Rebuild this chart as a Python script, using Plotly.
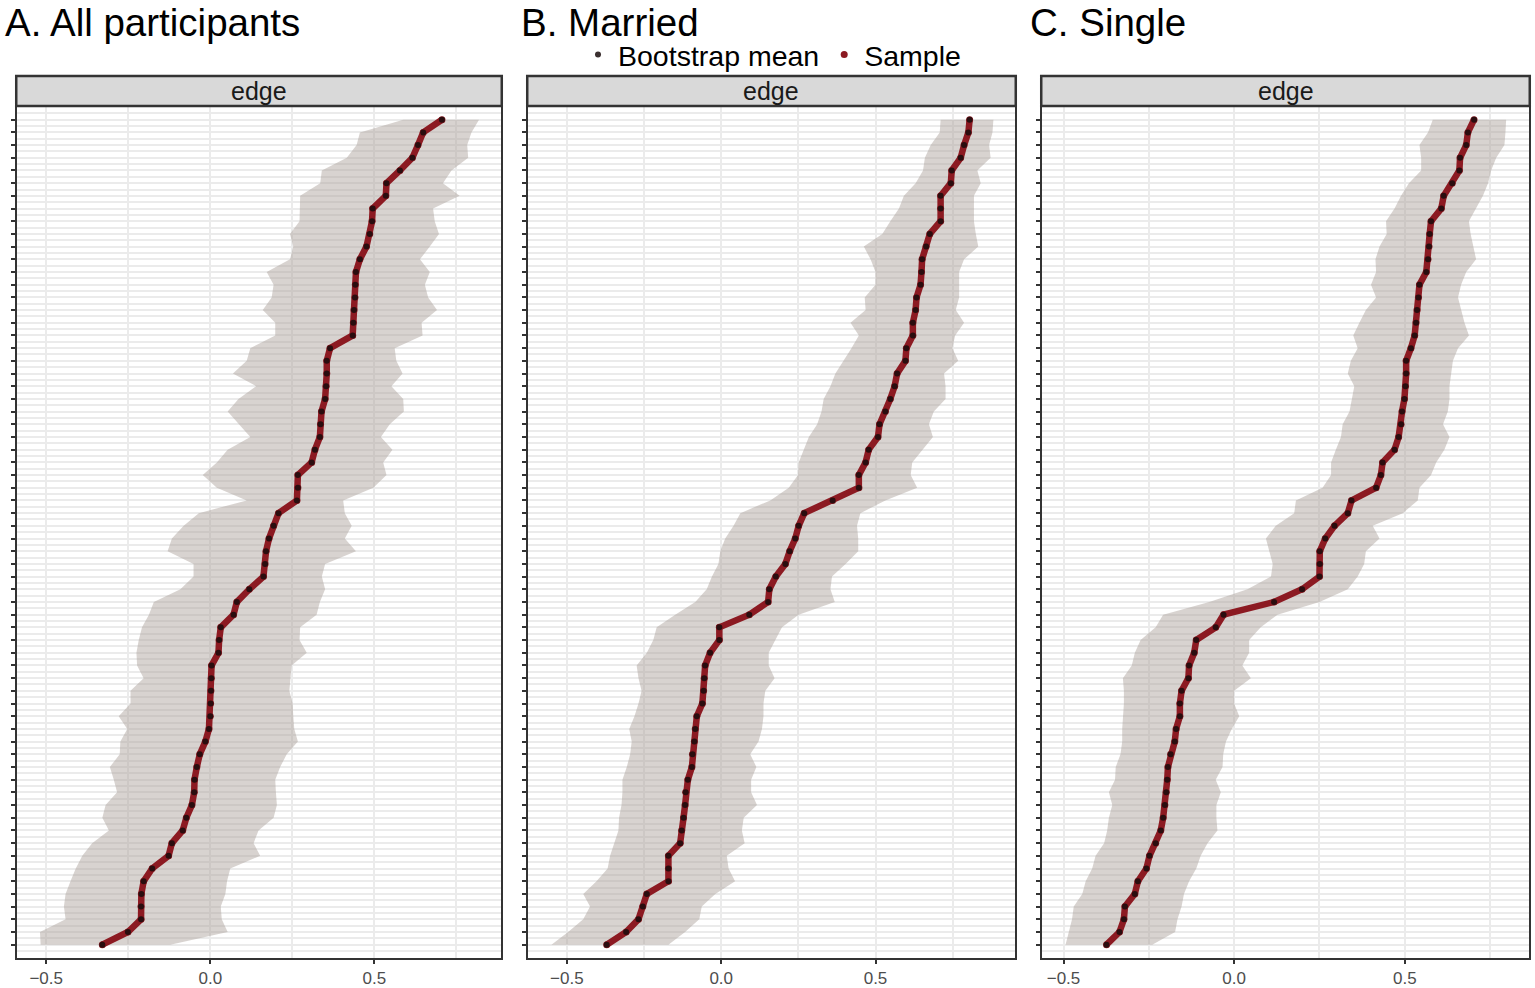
import plotly.graph_objects as go

# edge weights, listed from the top row (largest) to the bottom row (smallest)
all_sample = [0.706, 0.649, 0.633, 0.616, 0.578, 0.537, 0.535, 0.495, 0.493, 0.486, 0.476, 0.456, 0.444,
              0.442, 0.441, 0.438, 0.436, 0.434, 0.365, 0.355, 0.355, 0.353, 0.350, 0.339, 0.336, 0.334,
              0.319, 0.309, 0.267, 0.267, 0.264, 0.208, 0.193, 0.179, 0.170, 0.167, 0.162, 0.119, 0.081,
              0.071, 0.032, 0.027, 0.025, 0.004, 0.003, 0.002, 0.001, 0.000, -0.004, -0.015, -0.032, -0.041,
              -0.048, -0.049, -0.056, -0.073, -0.084, -0.117, -0.127, -0.177, -0.203, -0.210, -0.211, -0.211,
              -0.251, -0.329]
all_upper = [0.819, 0.796, 0.783, 0.786, 0.735, 0.709, 0.760, 0.679, 0.684, 0.697, 0.669, 0.639, 0.669,
             0.654, 0.664, 0.691, 0.644, 0.647, 0.562, 0.567, 0.586, 0.552, 0.588, 0.590, 0.547, 0.520,
             0.555, 0.527, 0.537, 0.497, 0.405, 0.410, 0.431, 0.410, 0.444, 0.350, 0.340, 0.350, 0.334,
             0.324, 0.274, 0.272, 0.294, 0.248, 0.245, 0.241, 0.251, 0.253, 0.256, 0.267, 0.233, 0.213,
             0.198, 0.200, 0.203, 0.193, 0.147, 0.132, 0.152, 0.061, 0.051, 0.046, 0.032, 0.035, 0.053, -0.122]
all_lower = [0.588, 0.456, 0.446, 0.416, 0.340, 0.335, 0.274, 0.274, 0.272, 0.243, 0.253, 0.243, 0.172,
             0.193, 0.187, 0.160, 0.198, 0.198, 0.122, 0.111, 0.069, 0.140, 0.086, 0.053, 0.086, 0.122,
             0.053, 0.020, -0.023, 0.020, 0.111, -0.035, -0.081, -0.117, -0.130, -0.051, -0.051, -0.091,
             -0.172, -0.187, -0.208, -0.218, -0.225, -0.223, -0.203, -0.243, -0.243, -0.279, -0.253, -0.274,
             -0.276, -0.306, -0.294, -0.284, -0.319, -0.329, -0.309, -0.360, -0.390, -0.410, -0.426, -0.441,
             -0.446, -0.441, -0.519, -0.517]

married_sample = [0.805, 0.801, 0.787, 0.776, 0.747, 0.744, 0.711, 0.711, 0.711, 0.676, 0.664, 0.651, 0.649,
                  0.646, 0.633, 0.630, 0.621, 0.621, 0.600, 0.597, 0.570, 0.562, 0.548, 0.532, 0.513, 0.508,
                  0.478, 0.468, 0.446, 0.446, 0.361, 0.269, 0.251, 0.240, 0.222, 0.208, 0.177, 0.156, 0.152,
                  0.091, -0.006, -0.006, -0.036, -0.052, -0.055, -0.057, -0.061, -0.079, -0.084, -0.087, -0.093,
                  -0.095, -0.108, -0.115, -0.117, -0.122, -0.128, -0.133, -0.171, -0.171, -0.171, -0.241, -0.254,
                  -0.268, -0.308, -0.371]
married_upper = [0.882, 0.879, 0.868, 0.873, 0.830, 0.841, 0.819, 0.819, 0.819, 0.825, 0.833, 0.787, 0.771,
                 0.771, 0.771, 0.760, 0.787, 0.758, 0.749, 0.768, 0.722, 0.727, 0.727, 0.689, 0.673, 0.686,
                 0.652, 0.619, 0.614, 0.635, 0.532, 0.451, 0.440, 0.444, 0.444, 0.403, 0.359, 0.354, 0.368,
                 0.251, 0.197, 0.175, 0.154, 0.154, 0.173, 0.143, 0.137, 0.137, 0.132, 0.121, 0.094, 0.114,
                 0.097, 0.097, 0.116, 0.073, 0.067, 0.076, 0.018, 0.024, 0.045, -0.019, -0.063, -0.071, -0.117,
                 -0.171]
married_lower = [0.711, 0.708, 0.679, 0.660, 0.654, 0.630, 0.592, 0.576, 0.548, 0.522, 0.462, 0.484, 0.500,
                 0.500, 0.465, 0.468, 0.419, 0.446, 0.422, 0.397, 0.370, 0.354, 0.332, 0.325, 0.311, 0.284,
                 0.267, 0.251, 0.249, 0.219, 0.159, 0.062, 0.040, 0.013, -0.003, -0.009, -0.030, -0.047, -0.084,
                 -0.149, -0.209, -0.220, -0.241, -0.274, -0.268, -0.258, -0.268, -0.281, -0.298, -0.290, -0.295,
                 -0.306, -0.320, -0.320, -0.323, -0.331, -0.333, -0.346, -0.360, -0.368, -0.404, -0.447, -0.425,
                 -0.447, -0.496, -0.550]

single_sample = [0.703, 0.685, 0.680, 0.662, 0.660, 0.639, 0.614, 0.607, 0.577, 0.573, 0.571, 0.568, 0.563,
                 0.543, 0.540, 0.536, 0.533, 0.529, 0.518, 0.504, 0.504, 0.502, 0.499, 0.492, 0.489, 0.482,
                 0.470, 0.435, 0.430, 0.416, 0.344, 0.333, 0.294, 0.267, 0.251, 0.251, 0.250, 0.199, 0.117,
                 -0.031, -0.054, -0.111, -0.117, -0.132, -0.134, -0.154, -0.159, -0.159, -0.170, -0.174, -0.186,
                 -0.194, -0.196, -0.199, -0.203, -0.208, -0.215, -0.230, -0.248, -0.257, -0.282, -0.291, -0.320,
                 -0.323, -0.336, -0.374]
single_upper = [0.797, 0.795, 0.792, 0.768, 0.753, 0.744, 0.729, 0.709, 0.688, 0.693, 0.700, 0.709, 0.680,
                0.665, 0.656, 0.665, 0.675, 0.688, 0.656, 0.641, 0.636, 0.631, 0.631, 0.626, 0.612, 0.631,
                0.616, 0.592, 0.577, 0.543, 0.538, 0.494, 0.406, 0.426, 0.386, 0.381, 0.362, 0.333, 0.250,
                0.127, 0.078, 0.044, 0.044, 0.024, 0.049, 0.000, 0.000, 0.015, -0.007, -0.024, -0.032, -0.034,
                -0.054, -0.039, -0.052, -0.052, -0.049, -0.078, -0.098, -0.111, -0.132, -0.147, -0.154, -0.166,
                -0.173, -0.240]
single_lower = [0.582, 0.568, 0.543, 0.548, 0.548, 0.512, 0.489, 0.470, 0.445, 0.447, 0.426, 0.414, 0.416,
                0.401, 0.416, 0.386, 0.367, 0.349, 0.362, 0.342, 0.333, 0.352, 0.345, 0.338, 0.318, 0.313,
                0.298, 0.284, 0.284, 0.259, 0.181, 0.176, 0.122, 0.093, 0.103, 0.113, 0.108, 0.039, -0.073,
                -0.208, -0.230, -0.274, -0.291, -0.300, -0.326, -0.323, -0.323, -0.326, -0.328, -0.328, -0.333,
                -0.347, -0.349, -0.367, -0.357, -0.367, -0.372, -0.381, -0.406, -0.416, -0.435, -0.445, -0.470,
                -0.475, -0.484, -0.494]

titles = ["A. All participants", "B. Married", "C. Single"]
strip_label = "edge"
x_ticks = [-0.5, 0.0, 0.5]

# body margin is removed in the page (post_script below), so figure pixels = window pixels
W, H = 1535, 988


def px_x(v):
    return v / W


def px_y(v):
    return 1 - v / H


panels = [
    (all_sample, all_lower, all_upper, (17, 501), [-0.589, 0.886]),
    (married_sample, married_lower, married_upper, (528, 1015), [-0.626, 0.952]),
    (single_sample, single_lower, single_upper, (1042, 1529), [-0.563, 0.864]),
]

FONT = "Liberation Sans, Arial, sans-serif"
RED = "#8c1a22"
y_dom = [px_y(958), px_y(107)]
strip_y = [px_y(106), px_y(76)]

fig = go.Figure()
layout = {}
shapes = []
annotations = []

for i, (sample, lower, upper, xpx, xrng) in enumerate(panels):
    n = len(sample)
    rows = list(range(n, 0, -1))
    xdom = [px_x(xpx[0]), px_x(xpx[1])]
    xa = "x" if i == 0 else f"x{i + 1}"
    ya = "y" if i == 0 else f"y{i + 1}"

    # bootstrap interval band
    fig.add_trace(go.Scatter(
        x=lower + upper[::-1], y=rows + rows[::-1], fill="toself",
        fillcolor="rgba(168,158,150,0.45)", line=dict(width=0),
        mode="lines", hoverinfo="skip", showlegend=False, xaxis=xa, yaxis=ya))
    # sample line
    fig.add_trace(go.Scatter(
        x=sample, y=rows, mode="lines", line=dict(color=RED, width=6.5),
        showlegend=False, xaxis=xa, yaxis=ya))
    fig.add_trace(go.Scatter(
        x=sample, y=rows, mode="markers", marker=dict(color=RED, size=7),
        name="Sample", legendrank=2, showlegend=(i == 1), xaxis=xa, yaxis=ya))
    # bootstrap mean points
    fig.add_trace(go.Scatter(
        x=sample, y=rows, mode="markers", marker=dict(color="rgba(25,12,12,0.85)", size=6),
        name="Bootstrap mean", legendrank=1, showlegend=(i == 1), xaxis=xa, yaxis=ya))

    key = "" if i == 0 else str(i + 1)
    layout["xaxis" + key] = dict(
        domain=xdom, range=xrng, anchor=ya, tickmode="array", tickvals=x_ticks,
        tickformat=".1f", ticks="outside", ticklen=4, tickwidth=2, tickcolor="#333333",
        tickfont=dict(size=17, color="#4d4d4d", family=FONT),
        showgrid=True, gridcolor="#ebebeb", gridwidth=2,
        minor=dict(tickmode="linear", tick0=0.25, dtick=0.5, showgrid=True,
                   gridcolor="#ebebeb", gridwidth=1.5, ticks=""),
        showline=True, linecolor="#333333", linewidth=2, mirror=True, zeroline=False)
    layout["yaxis" + key] = dict(
        domain=y_dom, range=[-0.05, n + 1], anchor=xa, tickmode="array", tickvals=rows,
        showticklabels=False, ticks="outside", ticklen=4, tickwidth=2, tickcolor="#333333",
        showgrid=True, gridcolor="#ebebeb", gridwidth=2,
        minor=dict(tickmode="linear", tick0=0.5, dtick=1, showgrid=True,
                   gridcolor="#ebebeb", gridwidth=1.5, ticks=""),
        showline=True, linecolor="#333333", linewidth=2, mirror=True, zeroline=False)

    shapes.append(dict(type="rect", xref="paper", yref="paper", x0=xdom[0] - 0.0005, x1=xdom[1] + 0.0005,
                       y0=strip_y[0], y1=strip_y[1], fillcolor="#d9d9d9",
                       line=dict(color="#333333", width=2.5)))
    annotations.append(dict(text=strip_label, xref="paper", yref="paper", x=sum(xdom) / 2,
                            y=sum(strip_y) / 2, showarrow=False, xanchor="center", yanchor="middle",
                            font=dict(size=25, color="#1a1a1a", family=FONT)))

title_x = [4, 520, 1029]
for t, px in zip(titles, title_x):
    annotations.append(dict(text=t, xref="paper", yref="paper", x=px_x(px), y=px_y(22),
                            showarrow=False, xanchor="left", yanchor="middle", borderpad=0,
                            font=dict(size=38.5, color="#000000", family=FONT)))

fig.update_layout(
    width=W, height=H,
    margin=dict(l=0, r=0, t=0, b=0),
    paper_bgcolor="white", plot_bgcolor="white",
    font=dict(family=FONT),
    shapes=shapes, annotations=annotations,
    legend=dict(orientation="h", x=px_x(772), y=px_y(55), xanchor="center", yanchor="middle",
                font=dict(size=28.5, color="#000000", family=FONT), itemwidth=30,
                bgcolor="rgba(0,0,0,0)", tracegroupgap=0),
    **layout,
)

fig.write_html("out.html", config={"displayModeBar": False},
               post_script="document.body.style.margin='0';")
